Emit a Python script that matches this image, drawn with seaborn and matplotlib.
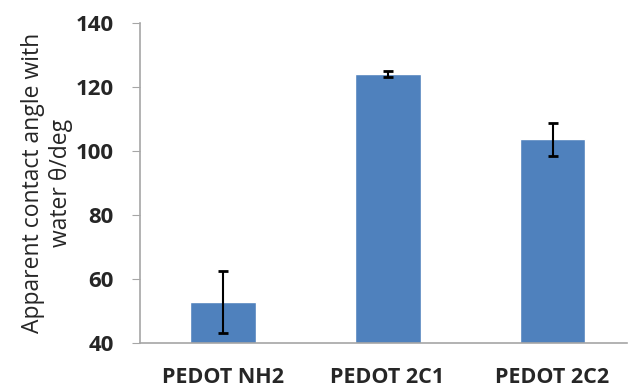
import numpy as np
import pandas as pd
import matplotlib
matplotlib.use("Agg")
import matplotlib.pyplot as plt
import seaborn as sns

# contact angle data
samples = ["PEDOT NH2", "PEDOT 2C1", "PEDOT 2C2"]
angle = [52.8, 124.0, 103.6]
angle_err = [9.7, 1.0, 5.2]

df = pd.DataFrame({"sample": samples, "angle": angle})

sns.set_style("white")
plt.rcParams["font.family"] = ["Open Sans", "DejaVu Sans"]

fig = plt.figure(figsize=(6.28, 3.88), dpi=100)
ax = fig.add_axes([0.223, 0.116, 0.775, 0.825])

sns.barplot(data=df, x="sample", y="angle", color="#4F81BD", width=0.4,
            saturation=1, ax=ax)
ax.errorbar(np.arange(len(samples)), angle, yerr=angle_err, fmt="none",
            ecolor="black", elinewidth=1.5, capsize=3.5, capthick=2)

ax.set_ylim(40, 140)
ax.set_xlim(-0.5, 2.45)
ax.set_yticks([40, 60, 80, 100, 120, 140])
ax.set_xlabel("")
ax.set_ylabel("Apparent contact angle with\nwater \u03b8/deg", fontsize=16.5,
              labelpad=2, linespacing=1.2)

for s in ["top", "right"]:
    ax.spines[s].set_visible(False)
for s in ["left", "bottom"]:
    ax.spines[s].set_color("#a6a6a6")
    ax.spines[s].set_linewidth(1.2)

ax.tick_params(axis="y", which="both", left=True, length=6, color="#a6a6a6",
               labelsize=16, pad=13)
ax.tick_params(axis="x", bottom=False, labelsize=15.5, pad=14)
for lab in ax.get_yticklabels() + ax.get_xticklabels():
    lab.set_fontweight("bold")

fig.savefig("out.png", dpi=100)
